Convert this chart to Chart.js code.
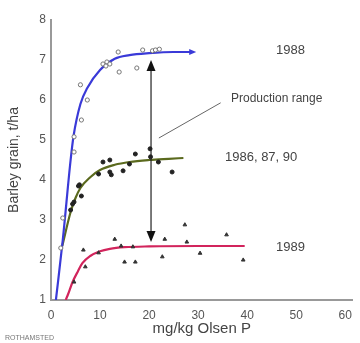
<!DOCTYPE html>
<html>
<head>
<meta charset="utf-8">
<script src="https://cdn.jsdelivr.net/npm/chart.js@4/dist/chart.umd.min.js"></script>
<style>
  html, body { margin: 0; padding: 0; background: #fff; }
  #wrap { width: 360px; height: 343px; position: relative; }
</style>
</head>
<body>
<div id="wrap"><canvas id="chart"></canvas></div>
<script>
// Valores (Olsen P em mg/kg, rendimento em t/ha)
const xTicks = [0, 10, 20, 30, 40, 50, 60];
const yTicks = [1, 2, 3, 4, 5, 6, 7, 8];

// 1988 - círculos abertos
const obs1988X = [2, 2.4, 4.7, 4.7, 6.2, 7.4, 6, 10.6, 11.4, 12, 11.2, 13.7, 13.9, 17.5, 18.7, 20.7, 21.3, 22.1];
const obs1988Y = [2.3, 3.05, 4.7, 5.08, 5.5, 6.0, 6.38, 6.9, 6.95, 6.9, 6.85, 7.2, 6.7, 6.8, 7.25, 7.23, 7.25, 7.27];
const fit1988X = [1, 2.4, 4, 4.6, 6, 7.4, 10, 13, 16, 20, 25, 29];
const fit1988Y = [1, 2.5, 4.5, 5.1, 5.9, 6.3, 6.75, 7.03, 7.12, 7.17, 7.2, 7.2];

// 1986, 87, 90 - círculos cheios
const obs1986X = [4, 4.4, 4.7, 5.6, 5.8, 6.2, 9.7, 10.6, 12, 12, 12.3, 14.7, 16, 17.2, 20.2, 20.3, 21.9, 24.7];
const obs1986Y = [3.25, 3.4, 3.45, 3.85, 3.88, 3.6, 4.15, 4.45, 4.5, 4.2, 4.13, 4.23, 4.4, 4.65, 4.78, 4.58, 4.45, 4.2];
const fit1986X = [2.3, 4, 5, 6, 8, 10, 13, 16, 20, 24, 27];
const fit1986Y = [2.35, 3.2, 3.55, 3.8, 4.07, 4.25, 4.38, 4.45, 4.5, 4.53, 4.55];

// 1989 - triângulos
const obs1989X = [4.7, 6.6, 7, 9.7, 13, 14.3, 15, 16.7, 17.2, 22.7, 23.2, 27.3, 27.7, 30.4, 35.8, 39.2];
const obs1989Y = [1.45, 2.25, 1.83, 2.18, 2.52, 2.35, 1.95, 2.33, 1.95, 2.08, 2.52, 2.88, 2.45, 2.17, 2.63, 2.0];
const fit1989X = [3, 3.5, 4.4, 5.5, 6.4, 8, 10, 12, 15, 20, 30, 39.5];
const fit1989Y = [1, 1.15, 1.45, 1.72, 1.92, 2.1, 2.22, 2.28, 2.32, 2.34, 2.35, 2.35];

// Seta "Production range" e linha indicadora
const rangeX = 20.4;
const rangeTop = 7.0;
const rangeBottom = 2.45;
const pointerX = [22, 34.6];
const pointerY = [5.05, 5.93];

const FONT = '"Liberation Sans", Arial, sans-serif';

function pts(xs, ys) {
  return xs.map((x, i) => ({ x: x, y: ys[i] }));
}

function curve(xs, ys, color, width) {
  return {
    data: pts(xs, ys),
    showLine: true,
    borderColor: color,
    borderWidth: width,
    pointRadius: 0,
    cubicInterpolationMode: 'monotone',
    fill: false
  };
}

function markers(xs, ys, style, fillColor, lineColor, r) {
  return {
    data: pts(xs, ys),
    showLine: false,
    pointStyle: style,
    pointRadius: r,
    pointBackgroundColor: fillColor,
    pointBorderColor: lineColor,
    pointBorderWidth: 1
  };
}

// Plugin para as anotações (setas, linha e textos)
const annotations = {
  id: 'annotations',
  afterDatasetsDraw(chart) {
    const ctx = chart.ctx;
    const sx = chart.scales.x, sy = chart.scales.y;
    ctx.save();

    // seta dupla vertical
    const ax = sx.getPixelForValue(rangeX);
    const aTop = sy.getPixelForValue(rangeTop);
    const aBot = sy.getPixelForValue(rangeBottom);
    ctx.strokeStyle = '#222';
    ctx.fillStyle = '#111';
    ctx.lineWidth = 1.2;
    ctx.beginPath();
    ctx.moveTo(ax, aTop + 8);
    ctx.lineTo(ax, aBot - 8);
    ctx.stroke();
    ctx.beginPath();
    ctx.moveTo(ax, aTop);
    ctx.lineTo(ax - 4.5, aTop + 11);
    ctx.lineTo(ax + 4.5, aTop + 11);
    ctx.closePath();
    ctx.fill();
    ctx.beginPath();
    ctx.moveTo(ax, aBot);
    ctx.lineTo(ax - 4.5, aBot - 11);
    ctx.lineTo(ax + 4.5, aBot - 11);
    ctx.closePath();
    ctx.fill();

    // ponta da curva de 1988
    const bx = sx.getPixelForValue(fit1988X[fit1988X.length - 1]);
    const by = sy.getPixelForValue(fit1988Y[fit1988Y.length - 1]);
    ctx.fillStyle = '#3a3ad8';
    ctx.beginPath();
    ctx.moveTo(bx + 3, by);
    ctx.lineTo(bx - 4, by - 3);
    ctx.lineTo(bx - 4, by + 3);
    ctx.closePath();
    ctx.fill();

    // linha indicadora
    ctx.strokeStyle = '#666';
    ctx.lineWidth = 1;
    ctx.beginPath();
    ctx.moveTo(sx.getPixelForValue(pointerX[0]), sy.getPixelForValue(pointerY[0]));
    ctx.lineTo(sx.getPixelForValue(pointerX[1]), sy.getPixelForValue(pointerY[1]));
    ctx.stroke();

    // textos
    ctx.fillStyle = '#444';
    ctx.textBaseline = 'middle';
    ctx.textAlign = 'left';
    ctx.font = '13px ' + FONT;
    ctx.fillText('1988', 276, 50);
    ctx.fillText('1986, 87, 90', 225, 157);
    ctx.fillText('1989', 276, 247);
    ctx.font = '12px ' + FONT;
    ctx.fillText('Production range', 231, 99);
    ctx.fillStyle = '#777';
    ctx.font = '7px ' + FONT;
    ctx.fillText('ROTHAMSTED', 5, 338);
    ctx.restore();
  }
};

new Chart(document.getElementById('chart'), {
  type: 'scatter',
  data: {
    datasets: [
      markers(obs1988X, obs1988Y, 'circle', '#fff', '#777', 2.1),
      markers(obs1986X, obs1986Y, 'circle', '#222', '#222', 2),
      markers(obs1989X, obs1989Y, 'triangle', '#333', '#333', 2.1),
      curve(fit1988X, fit1988Y, '#3a3ad8', 2.2),
      curve(fit1986X, fit1986Y, '#5b6a1e', 2.2),
      curve(fit1989X, fit1989Y, '#d2245c', 2.2)
    ]
  },
  options: {
    responsive: true,
    maintainAspectRatio: false,
    animation: false,
    layout: { padding: { top: 20, right: 2, bottom: 0, left: 0 } },
    plugins: { legend: { display: false }, tooltip: { enabled: false } },
    scales: {
      x: {
        type: 'linear',
        min: 0,
        max: 61.5,
        afterFit: s => { s.height = 43; },
        grid: { display: false, drawTicks: false },
        border: { color: '#999', width: 2 },
        afterBuildTicks: s => { s.ticks = xTicks.map(v => ({ value: v })); },
        ticks: { color: '#555', font: { family: FONT, size: 12 }, padding: 8 },
        title: { display: true, text: 'mg/kg Olsen P', color: '#444', font: { family: FONT, size: 15 }, padding: { top: 0, bottom: 5 } }
      },
      y: {
        type: 'linear',
        min: 1,
        max: 8,
        afterFit: s => { s.width = 51; },
        grid: { display: false, drawTicks: false },
        border: { color: '#999', width: 2 },
        afterBuildTicks: s => { s.ticks = yTicks.map(v => ({ value: v })); },
        ticks: { color: '#555', font: { family: FONT, size: 12 }, padding: 5 },
        title: { display: true, text: 'Barley grain, t/ha', color: '#444', font: { family: FONT, size: 14 }, padding: { top: 6, bottom: 4 } }
      }
    }
  },
  plugins: [annotations]
});
</script>
</body>
</html>
